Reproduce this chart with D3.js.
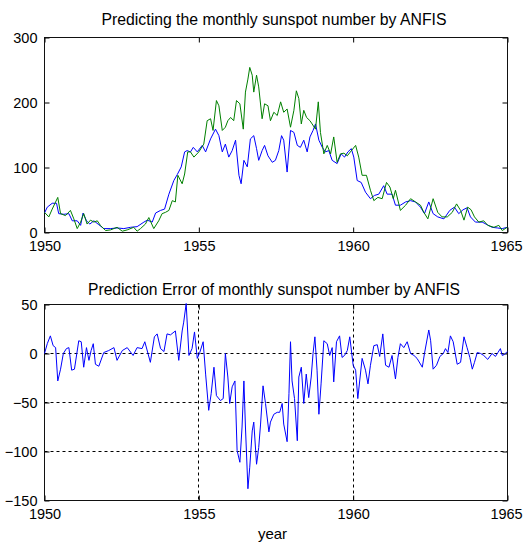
<!DOCTYPE html>
<html><head><meta charset="utf-8">
<script src="https://cdn.jsdelivr.net/npm/d3@7"></script>
<style>
html,body{margin:0;padding:0;background:#fff;}
text{font-family:"Liberation Sans",Arial,sans-serif;font-size:15px;fill:#000;}
</style></head>
<body>
<svg id="c" width="523" height="543"></svg>
<script>
// ---- data ----
const xTicks = [1950, 1955, 1960, 1965];
const topYTicks = [0, 100, 200, 300];
const botYTicks = [-150, -100, -50, 0, 50];

const actualYears = [1950.00,1950.14,1950.25,1950.43,1950.52,1950.68,1950.84,1950.95,1951.06,1951.17,1951.27,1951.38,1951.49,1951.60,1951.71,1951.81,1951.98,1952.14,1952.35,1952.52,1952.68,1952.89,1953.00,1953.11,1953.27,1953.38,1953.54,1953.70,1953.81,1953.92,1954.03,1954.14,1954.24,1954.32,1954.46,1954.54,1954.64,
1954.73,1954.84,1955.00,1955.16,1955.27,1955.38,1955.46,1955.57,1955.65,1955.76,1955.86,1955.94,1956.03,1956.13,1956.22,1956.33,1956.44,1956.51,1956.59,1956.65,1956.73,1956.78,1956.87,1956.94,1957.05,1957.13,1957.24,1957.32,1957.43,1957.54,1957.65,1957.75,1957.86,1957.97,1958.08,1958.16,1958.24,1958.32,1958.40,1958.49,1958.60,1958.67,1958.78,1958.87,1958.94,1959.05,1959.16,1959.27,1959.37,1959.48,1959.59,1959.70,1959.81,1959.91,
1960.08,1960.18,1960.29,1960.43,1960.56,1960.67,1960.80,1960.94,1961.08,1961.19,1961.30,1961.37,1961.53,1961.70,1961.86,1962.02,1962.18,1962.29,1962.42,1962.59,1962.74,1962.88,1963.05,1963.21,1963.35,1963.48,1963.59,1963.71,1963.82,1963.93,1964.07,1964.23,1964.36,1964.56,1964.72,1964.83,1964.99];
const actualValues = [31,24,36,54,29,26,34,21,6,16,29,13,19,16,18,11,3,4,8,2,4,8,2,6,13,23,6,18,29,31,34,49,47,88,75,90,124,
124,116,124,136,172,175,157,203,195,157,162,172,177,172,203,198,159,216,236,254,242,216,242,224,175,198,195,172,185,180,201,185,190,162,188,218,206,167,188,177,172,167,159,201,154,121,134,121,147,108,121,122,118,124,
134,116,88,88,65,49,54,52,77,70,52,65,34,42,52,47,42,31,21,52,31,24,24,31,44,34,19,39,35,24,16,18,11,8,11,3,8];

const predYears = [1950.00,1950.09,1950.25,1950.39,1950.46,1950.63,1950.79,1950.90,1951.06,1951.17,1951.25,1951.36,1951.47,1951.60,1951.76,1951.92,1952.14,1952.35,1952.57,1952.79,1953.00,1953.22,1953.33,1953.49,1953.60,1953.76,1953.89,1954.03,1954.19,1954.30,1954.43,1954.54,1954.62,
1954.73,1954.82,1954.95,1955.11,1955.22,1955.38,1955.54,1955.65,1955.76,1955.86,1955.97,1956.08,1956.19,1956.30,1956.37,1956.46,1956.57,1956.67,1956.78,1956.87,1956.94,1957.05,1957.13,1957.24,1957.38,1957.48,1957.59,1957.68,1957.75,1957.86,1957.97,1958.08,1958.19,1958.29,1958.40,1958.51,1958.60,1958.70,1958.78,1958.89,1959.00,1959.10,1959.21,1959.32,1959.48,1959.61,1959.72,1959.83,1959.94,
1960.02,1960.13,1960.26,1960.40,1960.56,1960.69,1960.83,1960.99,1961.10,1961.26,1961.37,1961.53,1961.70,1961.86,1962.02,1962.18,1962.31,1962.45,1962.59,1962.74,1962.94,1963.13,1963.28,1963.42,1963.56,1963.69,1963.80,1963.96,1964.18,1964.34,1964.50,1964.67,1964.83,1964.99];
const predValues = [30,39,45,45,29,28,29,18,18,11,30,18,13,18,12,6,6,7,6,8,9,16,19,16,30,34,36,59,80,89,101,124,126,
124,131,124,134,124,144,159,149,124,136,116,126,142,88,75,111,101,144,149,129,111,126,134,118,108,111,126,149,142,93,157,154,134,131,142,124,147,157,167,142,131,124,126,111,106,121,116,124,129,
116,80,77,62,52,57,59,72,59,59,42,42,47,49,47,39,29,47,29,24,21,34,39,29,35,38,24,16,16,12,8,7,6,8];

const errYears = [1950.00,1950.09,1950.19,1950.28,1950.36,1950.43,1950.52,1950.61,1950.71,1950.79,1950.88,1950.97,1951.11,1951.19,1951.27,1951.36,1951.44,1951.51,1951.58,1951.65,1951.76,1951.92,1952.08,1952.25,1952.35,1952.52,1952.68,1952.87,1953.00,1953.16,1953.25,1953.43,1953.56,1953.65,1953.76,1953.87,1953.97,1954.08,1954.24,1954.35,1954.46,1954.51,1954.59,1954.68,1954.78,1954.86,1954.95,
1955.03,1955.14,1955.22,1955.32,1955.40,1955.49,1955.57,1955.70,1955.79,1955.86,1955.94,1956.00,1956.08,1956.17,1956.24,1956.33,1956.40,1956.46,1956.51,1956.59,1956.65,1956.73,1956.78,1956.87,1956.94,1957.00,1957.08,1957.16,1957.27,1957.32,1957.43,1957.54,1957.62,1957.70,1957.75,1957.86,1957.92,1957.97,1958.02,1958.10,1958.19,1958.24,1958.32,1958.40,1958.48,1958.56,1958.64,1958.70,1958.76,1958.83,1958.89,1958.96,1959.05,1959.16,1959.24,1959.32,1959.37,1959.46,1959.56,1959.64,1959.72,1959.81,1959.89,
1960.00,1960.08,1960.15,1960.29,1960.40,1960.48,1960.56,1960.67,1960.78,1960.86,1960.96,1961.05,1961.16,1961.26,1961.37,1961.45,1961.53,1961.64,1961.75,1961.86,1961.97,1962.07,1962.24,1962.31,1962.45,1962.51,1962.59,1962.70,1962.81,1962.92,1962.99,1963.07,1963.15,1963.24,1963.37,1963.48,1963.59,1963.69,1963.78,1963.86,1963.93,1964.02,1964.13,1964.23,1964.36,1964.50,1964.61,1964.69,1964.77,1964.83,1964.90,1964.99];
const errValues = [0,10,18,8,6,-28,-16,0,5,6,-17,-16,13,12,-14,6,-7,3,10,-11,-13,1,3,6,-7,3,6,-2,6,5,12,-9,17,20,5,2,20,19,23,-7,23,32,51,-2,5,22,-5,
1,12,-21,-58,-41,-14,-43,-48,-46,0,-24,-51,-34,-28,-99,-111,-75,-28,-75,-138,-116,-79,-70,-113,-96,-72,-33,-51,-80,-70,-62,-60,-60,-51,-72,-90,-41,12,-28,-46,-89,-24,-14,-51,-21,-45,-24,0,17,-17,-62,-31,13,10,-2,6,-29,12,18,-4,-2,3,17,
-12,-17,-46,-5,-17,-31,-12,8,9,-3,20,-12,-14,-2,-26,-4,10,6,12,0,-2,-5,-14,0,24,13,-16,-12,-3,0,5,1,18,12,-11,-9,17,6,-4,-16,-9,1,0,-2,-6,0,-3,1,5,-2,-1,2];

const topTitle = "Predicting the monthly sunspot number by ANFIS";
const botTitle = "Prediction Error of monthly sunspot number by ANFIS";
const xLabel = "year";

// ---- layout ----
const L = 44.5, R = 507.5;
const FS = "14.5px";
const svg = d3.select("#c");
const x = d3.scaleLinear().domain([1950, 1965]).range([L, R]);

function panel(y, yTicks, title, titleY, titleLen, grid) {
  const g = svg.append("g");
  const [y0, y1] = y.range();
  if (grid) {
    g.selectAll(".gy").data(yTicks.filter(v => v !== y.domain()[0] && v !== y.domain()[1]))
      .join("line").attr("x1", L).attr("x2", R)
      .attr("y1", d => Math.round(y(d) - 0.5) + 0.5).attr("y2", d => Math.round(y(d) - 0.5) + 0.5)
      .attr("stroke", "#000").attr("stroke-dasharray", "3,3").attr("stroke-width", 1);
    g.selectAll(".gx").data(xTicks.slice(1, -1))
      .join("line").attr("y1", y1).attr("y2", y0)
      .attr("x1", d => Math.round(x(d) - 0.5) + 0.5).attr("x2", d => Math.round(x(d) - 0.5) + 0.5)
      .attr("stroke", "#000").attr("stroke-dasharray", "3,3").attr("stroke-width", 1);
  }
  const ab = g.append("g").attr("transform", `translate(0,${y0})`)
    .call(d3.axisBottom(x).tickValues(xTicks).tickFormat(d3.format("d")).tickSizeInner(-5).tickSizeOuter(0).tickPadding(8.5));
  const at = g.append("g").attr("transform", `translate(0,${y1})`)
    .call(d3.axisTop(x).tickValues(xTicks).tickFormat("").tickSizeInner(-5).tickSizeOuter(0));
  const al = g.append("g").attr("transform", `translate(${L},0)`)
    .call(d3.axisLeft(y).tickValues(yTicks).tickSizeInner(-5).tickSizeOuter(0).tickPadding(7));
  const ar = g.append("g").attr("transform", `translate(${R},0)`)
    .call(d3.axisRight(y).tickValues(yTicks).tickFormat("").tickSizeInner(-5).tickSizeOuter(0));
  [ab, at, al, ar].forEach(a => {
    a.select(".domain").remove();
    a.selectAll("line").attr("stroke", "#000");
    a.selectAll("text").attr("fill", "#000").style("font-size", FS)
      .style("font-family", '"Liberation Sans", Arial, sans-serif');
  });
  // keep the last x label inside the window, like the reference
  ab.selectAll("text").filter(d => d === xTicks[xTicks.length - 1]).attr("dx", "-1.5");
  g.append("rect").attr("x", L).attr("y", y1).attr("width", R - L).attr("height", y0 - y1)
    .attr("fill", "none").attr("stroke", "#111").attr("stroke-width", 1);
  svg.append("text").attr("x", 274).attr("y", titleY).attr("text-anchor", "middle")
    .style("font-size", "16px").attr("textLength", titleLen).attr("lengthAdjust", "spacingAndGlyphs")
    .text(title);
  return g;
}

const yTop = d3.scaleLinear().domain([0, 300]).range([232.5, 37.5]);
const yBot = d3.scaleLinear().domain([-150, 50]).range([500.5, 304.5]);

const gTop = panel(yTop, topYTicks, topTitle, 25, 345, false);
const gBot = panel(yBot, botYTicks, botTitle, 295, 372, true);

const lineTop = (xs, vs) => d3.line().x((d, i) => x(xs[i])).y(d => yTop(d))(vs);
const lineBot = (xs, vs) => d3.line().x((d, i) => x(xs[i])).y(d => yBot(d))(vs);

gTop.append("path").attr("d", lineTop(predYears, predValues))
  .attr("fill", "none").attr("stroke", "#0000ff").attr("stroke-width", 1);
gTop.append("path").attr("d", lineTop(actualYears, actualValues))
  .attr("fill", "none").attr("stroke", "#008000").attr("stroke-width", 1);
gBot.append("path").attr("d", lineBot(errYears, errValues))
  .attr("fill", "none").attr("stroke", "#0000ff").attr("stroke-width", 1);

svg.append("text").attr("x", 272.5).attr("y", 538.5).attr("text-anchor", "middle").text(xLabel);
</script>
</body></html>
